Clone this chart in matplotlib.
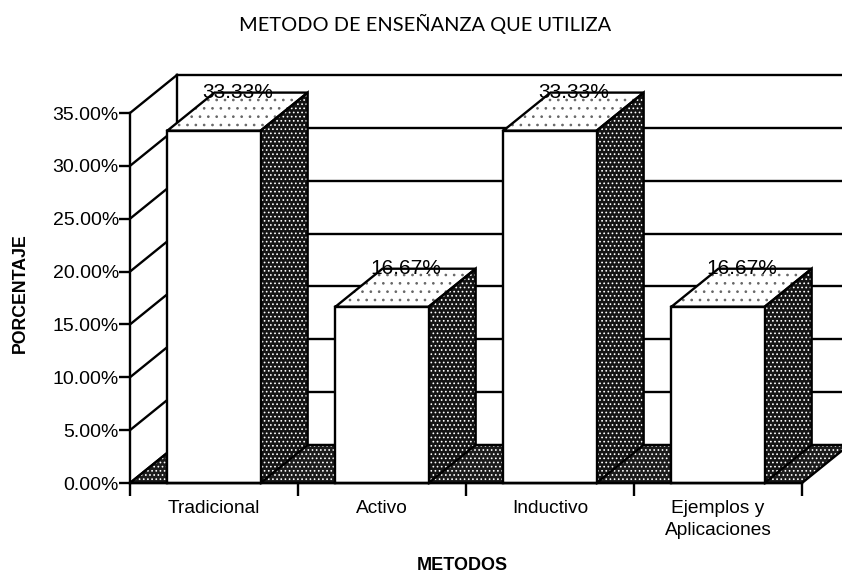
import matplotlib
matplotlib.use('Agg')
import matplotlib.pyplot as plt

categories = ['Tradicional', 'Activo', 'Inductivo', 'Ejemplos y\nAplicaciones']
values = [33.33, 16.67, 33.33, 16.67]
value_labels = ['33.33%', '16.67%', '33.33%', '16.67%']
y_ticks = [0, 5, 10, 15, 20, 25, 30, 35]

W, H = 842, 576
DEPTH_X = 0.28   # depth of the 3d box, in category units
DEPTH_Y = 3.6    # depth of the 3d box, in percent
BAR_W = 0.555
LW = 1.7

plt.rcParams['font.family'] = ['Liberation Sans', 'DejaVu Sans']
plt.rcParams['hatch.linewidth'] = 0.7

fig = plt.figure(figsize=(W / 100, H / 100), dpi=100)
ax = fig.add_axes([130 / W, 1 - 483 / H, (802 - 130) / W, (483 - 113) / H])
ax.set_xlim(0, 4)
ax.set_ylim(0, 35)
for s in ax.spines.values():
    s.set_visible(False)
ax.patch.set_visible(False)


def face(xs, ys, fc, hatch=None, hc='black', z=2):
    ax.fill(xs, ys, facecolor=fc, edgecolor=hc, hatch=hatch, lw=0, zorder=z, clip_on=False)
    ax.plot(xs + xs[:1], ys + ys[:1], color='black', lw=LW, zorder=z + 0.1, clip_on=False,
            solid_joinstyle='miter')


# walls and gridlines
for t in y_ticks:
    ax.plot([0, DEPTH_X], [t, t + DEPTH_Y], color='black', lw=LW, zorder=1, clip_on=False)
    if t > 0:
        ax.plot([DEPTH_X, 4 + DEPTH_X], [t + DEPTH_Y, t + DEPTH_Y], color='black', lw=LW, zorder=1, clip_on=False)
ax.plot([0, 0], [0, 35], color='black', lw=LW, zorder=1, clip_on=False)
ax.plot([DEPTH_X, DEPTH_X], [DEPTH_Y, 35 + DEPTH_Y], color='black', lw=LW, zorder=1, clip_on=False)

# floor
face([0, 4, 4 + DEPTH_X, DEPTH_X], [0, 0, DEPTH_Y, DEPTH_Y], '#1c1c1c', '....', 'white', z=1.5)

# bars
for i, v in enumerate(values):
    x0 = i + (1 - BAR_W) / 2
    x1 = x0 + BAR_W
    face([x1, x1 + DEPTH_X, x1 + DEPTH_X, x1], [0, DEPTH_Y, v + DEPTH_Y, v], '#141414', '....', 'white', z=3)
    face([x0, x1, x1 + DEPTH_X, x0 + DEPTH_X], [v, v, v + DEPTH_Y, v + DEPTH_Y], 'white', '..', '#666666', z=3)
    face([x0, x1, x1, x0], [0, 0, v, v], 'white', z=4)
    ax.text(x0 + BAR_W / 2 + DEPTH_X / 2, v + DEPTH_Y, value_labels[i], ha='center', va='center',
            fontsize=15, zorder=6)

ax.plot([0, 4], [0, 0], color='black', lw=LW, zorder=5, clip_on=False)

ax.set_xticks(range(5))
ax.set_xticklabels([])
ax.set_xticks([i + 0.5 for i in range(4)], categories, minor=True, fontsize=13.8, linespacing=1.4, va='top')
ax.set_yticks(y_ticks, [f'{t:.2f}%' for t in y_ticks], fontsize=14)
ax.tick_params(axis='x', which='major', length=9, width=LW)
ax.tick_params(axis='x', which='minor', length=0, pad=12)
ax.tick_params(axis='y', length=8, width=LW, pad=0)

fig.text(425 / W, 1 - 24 / H, 'METODO DE ENSEÑANZA QUE UTILIZA', ha='center', va='center',
         fontsize=14.4, family='Lato')
fig.text(462 / W, 1 - 566 / H, 'METODOS', ha='center', va='center', fontsize=13, fontweight='bold')
fig.text(20 / W, 1 - 293 / H, 'PORCENTAJE', ha='center', va='center', rotation=90, fontsize=12.8, fontweight='bold')

fig.savefig('out.png', dpi=100)
